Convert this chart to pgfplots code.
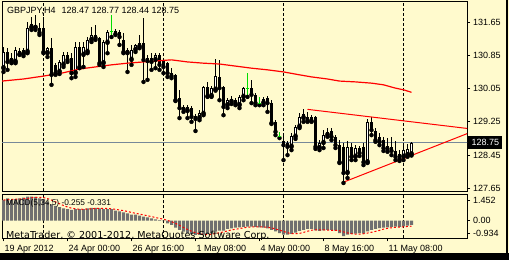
\documentclass[border=0pt]{standalone}
\usepackage{pgfplots}
\usepackage{pgfplotstable}
\pgfplotsset{compat=1.18}
\usepackage{fontspec}
\setmainfont{Liberation Sans}
\newfontfamily\dejavu{DejaVu Sans}
\definecolor{bg}{RGB}{255,250,205}
\definecolor{mtgreen}{RGB}{0,220,0}
\definecolor{slate}{RGB}{119,136,153}
\definecolor{histgray}{RGB}{112,112,112}
\newcommand{\fnt}{\fontsize{9bp}{10bp}\selectfont}

\pgfplotstableread{
i O H L C
0 130.54 131.05 130.45 130.93
2 130.71 130.90 130.66 130.78
3 130.69 131.05 130.66 130.98
5 130.88 131.02 130.83 130.98
6 130.93 131.65 130.90 131.51
7 131.51 131.77 131.46 131.60
8 131.51 131.82 131.46 131.58
11 130.90 131.05 130.81 131.02
14 130.45 130.74 130.40 130.69
15 130.62 130.93 130.57 130.86
18 130.42 131.17 130.33 131.05
20 130.86 131.17 130.57 131.05
21 130.93 131.29 130.90 131.22
22 131.22 131.53 131.17 131.34
25 130.66 131.22 130.57 131.17
26 131.15 131.46 130.90 131.41
31 130.90 131.02 130.45 130.98
32 130.74 131.10 130.62 130.98
33 130.98 131.12 130.93 131.10
34 131.05 131.34 131.02 131.15
38 130.74 130.90 130.54 130.86
46 129.51 129.65 129.34 129.61
49 129.34 129.53 129.29 129.46
50 129.44 130.11 129.41 130.09
52 129.87 130.11 129.85 130.06
53 130.02 130.76 130.00 130.35
56 129.65 129.82 129.58 129.77
57 129.73 129.87 129.68 129.80
59 129.65 129.90 129.58 129.85
60 129.85 130.09 129.77 130.06
65 129.70 129.85 129.65 129.80
72 128.65 128.98 128.57 128.91
73 128.89 129.17 128.84 129.13
74 129.13 129.46 129.10 129.37
75 129.34 129.56 129.25 129.44
79 128.62 128.81 128.57 128.74
80 128.74 129.05 128.62 128.93
81 128.93 129.10 128.89 129.01
86 128.02 128.79 127.90 128.65
88 128.41 128.69 128.33 128.62
91 128.28 129.32 128.26 129.25
100 128.41 128.74 128.33 128.57
101 128.45 128.72 128.41 128.60
102 128.47 128.77 128.44 128.75
}\bull

\pgfplotstableread{
i O H L C
1 130.93 131.02 130.50 130.69
4 130.95 131.02 130.86 130.88
9 131.51 131.63 131.34 131.39
10 131.51 131.77 130.90 130.93
12 131.02 131.27 130.14 130.38
13 130.62 130.66 130.38 130.42
16 130.86 130.93 130.69 130.74
17 130.78 130.90 130.30 130.42
19 131.05 131.17 130.54 130.57
23 131.34 131.58 131.22 131.27
24 131.27 131.29 130.62 130.66
28 131.43 131.48 131.34 131.36
29 131.41 131.46 131.10 131.29
30 131.22 131.39 130.90 130.93
35 131.15 131.75 130.21 130.74
36 130.78 130.86 130.26 130.71
37 130.78 130.90 130.50 130.69
39 130.86 130.90 130.50 130.62
40 130.74 130.78 130.42 130.57
41 130.66 130.69 130.33 130.42
42 130.42 130.54 130.30 130.35
43 130.38 130.40 129.75 129.77
44 129.82 130.02 129.34 129.58
45 129.60 129.65 129.49 129.56
47 129.58 129.63 129.25 129.37
48 129.39 129.44 129.03 129.32
51 130.09 130.21 129.85 129.87
54 130.33 130.74 129.77 130.06
55 130.09 130.11 129.41 129.61
58 129.77 129.82 129.65 129.70
62 130.06 130.26 129.70 129.90
63 129.90 129.94 129.65 129.70
66 129.82 129.87 129.49 129.70
67 129.70 129.77 129.20 129.22
68 129.25 129.29 128.93 129.01
70 128.79 128.98 128.33 128.69
71 128.74 128.79 128.45 128.65
76 129.37 129.49 129.25 129.29
77 129.37 129.41 129.25 129.27
78 129.37 129.39 128.60 128.65
82 129.03 129.10 128.81 128.89
83 128.89 128.93 128.62 128.69
84 128.69 128.81 128.26 128.28
85 128.65 128.74 127.78 128.02
87 128.65 128.74 128.33 128.41
89 128.62 128.67 128.43 128.50
90 128.65 128.74 128.21 128.28
92 129.25 129.37 128.93 129.05
93 129.03 129.10 128.77 128.81
94 128.89 128.98 128.69 128.77
95 128.81 128.89 128.55 128.62
96 128.67 128.86 128.53 128.60
97 128.65 128.89 128.45 128.55
98 128.55 128.79 128.33 128.41
99 128.48 128.57 128.31 128.36
}\bear

\pgfplotstableread{
i O H L C
27 131.41 131.82 131.29 131.41
61 130.04 130.42 129.85 130.04
64 129.70 129.85 129.65 129.70
69 128.89 129.01 128.86 128.89
}\doji

\pgfplotstableread{
i v
-0.375 130.23
5 130.28
10 130.35
15 130.43
19 130.52
23 130.57
27 130.62
31 130.66
35 130.69
39 130.72
42 130.74
46 130.69
50 130.66
54 130.64
58 130.59
62 130.54
66 130.50
70 130.45
74 130.38
77 130.33
81 130.28
84 130.23
88 130.21
92 130.18
95 130.14
98 130.06
100 130.02
102 129.96
}\ma

\pgfplotstableread{
i h s
0 1.25 1.25
1 1.36 1.28
2 1.25 1.29
3 1.30 1.30
4 1.36 1.30
5 1.40 1.33
6 1.452 1.35
7 1.452 1.39
8 1.45 1.42
9 1.36 1.42
10 1.30 1.40
11 1.15 1.34
12 0.99 1.25
13 0.90 1.14
14 0.82 1.03
15 0.74 0.92
16 0.70 0.83
17 0.65 0.76
18 0.70 0.72
19 0.70 0.70
20 0.70 0.69
21 0.74 0.70
22 0.78 0.72
23 0.78 0.74
24 0.74 0.75
25 0.70 0.75
26 0.70 0.74
27 0.70 0.72
28 0.61 0.69
29 0.56 0.65
30 0.50 0.61
31 0.45 0.56
32 0.37 0.50
33 0.37 0.45
34 0.30 0.40
35 0.25 0.35
36 0.20 0.30
37 0.14 0.25
38 0.08 0.19
39 0.04 0.14
40 -0.02 0.09
41 -0.16 0.02
42 -0.26 -0.06
43 -0.42 -0.16
44 -0.56 -0.28
45 -0.66 -0.41
46 -0.76 -0.53
47 -0.82 -0.64
48 -0.86 -0.73
49 -0.86 -0.79
50 -0.84 -0.83
51 -0.80 -0.84
52 -0.76 -0.82
53 -0.66 -0.78
54 -0.60 -0.73
55 -0.60 -0.68
56 -0.50 -0.62
57 -0.46 -0.56
58 -0.42 -0.52
59 -0.40 -0.48
60 -0.38 -0.43
61 -0.36 -0.40
62 -0.36 -0.38
63 -0.38 -0.38
64 -0.40 -0.38
65 -0.42 -0.38
66 -0.46 -0.40
67 -0.55 -0.44
68 -0.65 -0.50
69 -0.75 -0.57
70 -0.85 -0.65
71 -0.85 -0.73
72 -0.80 -0.78
73 -0.72 -0.79
74 -0.62 -0.77
75 -0.55 -0.71
76 -0.50 -0.64
77 -0.50 -0.58
78 -0.58 -0.55
79 -0.62 -0.55
80 -0.58 -0.56
81 -0.55 -0.57
82 -0.55 -0.58
83 -0.60 -0.58
84 -0.75 -0.61
85 -0.934 -0.68
86 -0.85 -0.74
87 -0.80 -0.79
88 -0.78 -0.82
89 -0.75 -0.82
90 -0.78 -0.79
91 -0.65 -0.75
92 -0.55 -0.70
93 -0.50 -0.65
94 -0.45 -0.59
95 -0.42 -0.51
96 -0.40 -0.46
97 -0.38 -0.43
98 -0.36 -0.40
99 -0.38 -0.39
100 -0.35 -0.37
101 -0.30 -0.35
102 -0.255 -0.331
}\macd

\begin{document}
\begin{tikzpicture}
\useasboundingbox (0bp,0bp) rectangle (509bp,260bp);
\fill[bg] (0bp,0bp) rectangle (509bp,260bp);
\fill[black] (0bp,0bp) rectangle (509bp,7bp);
\fill[black] (506bp,0bp) rectangle (508bp,260bp);

\begin{axis}[
  at={(2bp,69bp)}, anchor=south west, scale only axis,
  width=465bp, height=189.5bp,
  xmin=-0.375, xmax=115.875, ymin=127.587, ymax=132.143,
  axis line style={black, line width=1bp},
  xtick={10,40,70,100}, xticklabels={,,,},
  xtick style={draw=none},
  xmajorgrids,
  major x grid style={black, line width=1bp, dash pattern=on 3bp off 2bp},
  ytick={127.65,128.45,129.25,130.05,130.85,131.65},
  yticklabels={127.65,128.45,129.25,130.05,130.85,131.65},
  ytick pos=right, yticklabel pos=right,
  tick align=outside, major tick length=3bp,
  ytick style={black, line width=1bp},
  yticklabel style={font=\fnt, anchor=west, inner sep=0pt, xshift=3bp},
]
\addplot[slate, line width=1bp, mark=none] coordinates {(-1,128.75) (117,128.75)};
% wicks
\addplot[only marks, mark=none, error bars/.cd, y dir=plus, y explicit, error mark=none,
  error bar style={draw=black, line width=1bp}]
  table[x=i, y=L, y error expr=\thisrow{H}-\thisrow{L}] {\bull};
\addplot[only marks, mark=none, error bars/.cd, y dir=plus, y explicit, error mark=none,
  error bar style={draw=black, line width=1bp}]
  table[x=i, y=L, y error expr=\thisrow{H}-\thisrow{L}] {\bear};
\addplot[only marks, mark=none, error bars/.cd, y dir=plus, y explicit, error mark=none,
  error bar style={draw=mtgreen, line width=1bp}]
  table[x=i, y=L, y error expr=\thisrow{H}-\thisrow{L}] {\doji};
\addplot[only marks, mark=-, mark size=1.5bp, mark options={draw=mtgreen, line width=1bp}]
  table[x=i, y=O] {\doji};
% bear bodies
\addplot[only marks, mark=none, error bars/.cd, y dir=plus, y explicit, error mark=none,
  error bar style={draw=black, line width=3bp}]
  table[x=i, y=C, y error expr=\thisrow{O}-\thisrow{C}] {\bear};
% bull bodies
\addplot[only marks, mark=none, error bars/.cd, y dir=plus, y explicit, error mark=none,
  error bar style={draw=black, line width=3bp}]
  table[x=i, y=O, y error expr=\thisrow{C}-\thisrow{O}] {\bull};
\addplot[only marks, mark=none, error bars/.cd, y dir=plus, y explicit, error mark=none,
  error bar style={draw=white, line width=1bp}]
  table[x=i, y expr=\thisrow{O}+0.024, y error expr=\thisrow{C}-\thisrow{O}-0.048] {\bull};
% moving average and trend lines
\addplot[red, line width=1.2bp, mark=none] table[x=i, y=v] {\ma};
\addplot[red, line width=1bp, mark=none] coordinates {(76,129.55) (116,129.09)};
\addplot[red, line width=1bp, mark=none] coordinates {(84.75,127.79) (116,128.97)};
\end{axis}

\begin{axis}[
  at={(2bp,21.7bp)}, anchor=south west, scale only axis,
  width=465bp, height=44.3bp,
  xmin=-0.375, xmax=115.875, ymin=-1.067, ymax=1.618,
  axis line style={black, line width=1bp},
  xtick={0,16,32,48,64,80,96},
  xticklabels={19 Apr 2012, 24 Apr 00:00, 26 Apr 16:00, 1 May 08:00, 4 May 00:00, 8 May 16:00, 11 May 08:00},
  xtick pos=bottom,
  xticklabel style={font=\fnt, anchor=north west, inner sep=0pt, xshift=1bp, yshift=-3.5bp},
  minor xtick={10,40,70,100}, xminorgrids,
  minor x grid style={black, line width=1bp, dash pattern=on 3bp off 2bp},
  minor tick length=0pt,
  ytick={1.25,0.04,-0.75},
  yticklabels={1.452,0.00,-0.934},
  ytick pos=right, yticklabel pos=right,
  tick align=outside, major tick length=3bp,
  tick style={black, line width=1bp},
  yticklabel style={font=\fnt, anchor=west, inner sep=0pt, xshift=3bp},
]
\addplot[ybar, bar width=3bp, fill=histgray, draw=none] table[x=i, y=h] {\macd};
\addplot[red, line width=1bp, dash pattern=on 2bp off 2bp, mark=none] table[x=i, y=s] {\macd};
\end{axis}

\node[anchor=base west, inner sep=0pt, font=\fnt] at (7bp,246bp) {GBPJPY,H4\hspace{6bp}128.47 128.77 128.44 128.75};
\node[anchor=base west, inner sep=0pt, font=\fontsize{8.3bp}{9bp}\selectfont] at (6bp,54bp) {MACD(5,34,5) -0.255 -0.331};
\node[anchor=base west, inner sep=0pt, font=\dejavu\fontsize{9.6bp}{10bp}\selectfont] at (6bp,22bp) {MetaTrader, © 2001-2012, MetaQuotes Software Corp.};
\node[anchor=west, fill=black, text=white, font=\fnt, minimum height=12.3bp, inner xsep=3.3bp, inner ysep=0pt] at (468bp,117.4bp) {128.75};
\end{tikzpicture}
\end{document}
